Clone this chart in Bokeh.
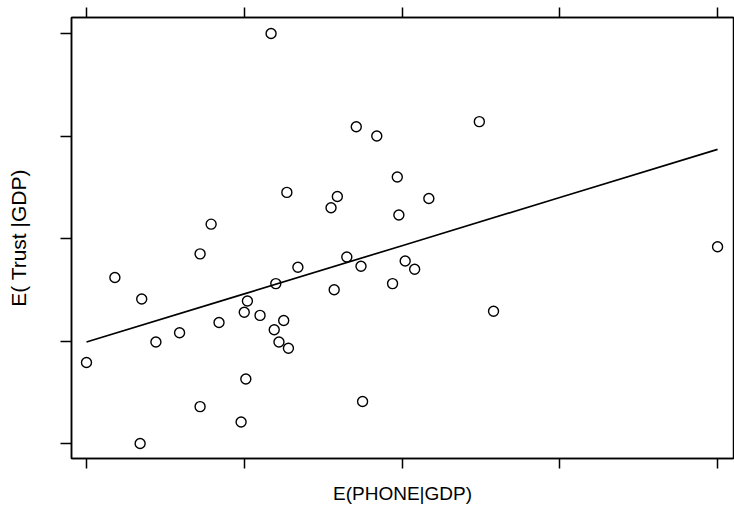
from bokeh.plotting import figure
from bokeh.models import FixedTicker, LinearAxis, Range1d, CustomJSTickFormatter
from bokeh.embed import file_html
from bokeh.resources import INLINE

# Residuals (arbitrary units; ticks unlabeled)
phone_resid = [0.00, 0.18, 0.35, 0.44, 0.59, 0.72, 0.79, 0.84, 1.00, 1.02,
               1.10, 0.34, 0.72, 1.01, 0.98, 1.27, 1.59, 1.55, 1.97, 2.17,
               1.98, 1.65, 1.34, 1.74, 1.20, 1.57, 1.94, 2.02, 2.08, 1.25,
               1.19, 1.22, 1.28, 1.71, 1.84, 2.49, 4.00, 2.58, 1.75, 1.17]
trust_resid = [0.79, 1.62, 1.41, 0.99, 1.08, 1.85, 2.14, 1.18, 1.28, 1.39,
               1.25, 0.00, 0.36, 0.63, 0.21, 2.45, 2.41, 2.30, 2.60, 2.39,
               2.23, 1.82, 1.72, 1.73, 1.56, 1.50, 1.56, 1.78, 1.70, 1.20,
               1.11, 0.99, 0.93, 3.09, 3.00, 3.14, 1.92, 1.29, 0.41, 4.00]

# Fitted line
fit_x = [0.0, 1.0, 2.0, 3.0, 4.0]
fit_y = [0.99, 1.46, 1.93, 2.40, 2.87]

tick_vals = [0, 1, 2, 3, 4]
x_label = "E(PHONE|GDP)"
y_label = "E( Trust |GDP)"

FONT = "Liberation Sans"

p = figure(width=734, height=506, output_backend="svg", toolbar_location=None,
           x_range=Range1d(-0.095, 4.101), y_range=Range1d(-0.146, 4.156),
           min_border_left=71, min_border_right=1, min_border_top=17,
           min_border_bottom=48)
p.background_fill_color = "white"
p.border_fill_color = "white"
p.outline_line_color = "black"
p.outline_line_width = 1.5
p.grid.visible = False

empty_fmt = CustomJSTickFormatter(code="return ''")

def style_axis(ax, length):
    ax.ticker = FixedTicker(ticks=tick_vals)
    ax.formatter = empty_fmt
    ax.major_tick_out = length
    ax.major_tick_in = 0
    ax.minor_tick_out = 0
    ax.minor_tick_in = 0
    ax.major_tick_line_color = "black"
    ax.major_tick_line_width = 1.5
    ax.axis_line_color = "black"
    ax.axis_line_width = 1.5
    ax.major_label_standoff = 0
    ax.axis_label_text_font = FONT
    ax.axis_label_text_font_style = "normal"
    ax.axis_label_text_color = "black"

style_axis(p.xaxis[0], 10)
p.xaxis[0].axis_label = x_label
p.xaxis[0].axis_label_text_font_size = "19px"
p.xaxis[0].axis_label_standoff = 14

style_axis(p.yaxis[0], 11)
p.yaxis[0].axis_label = y_label
p.yaxis[0].axis_label_text_font_size = "21px"
p.yaxis[0].axis_label_standoff = 31

top_ax = LinearAxis()
style_axis(top_ax, 10)
p.add_layout(top_ax, "above")

p.line(fit_x, fit_y, line_color="black", line_width=1.7)
p.scatter(phone_resid, trust_resid, size=10, marker="circle",
          fill_color=None, line_color="black", line_width=1.4)

open("out.html", "w").write(file_html(p, INLINE))
